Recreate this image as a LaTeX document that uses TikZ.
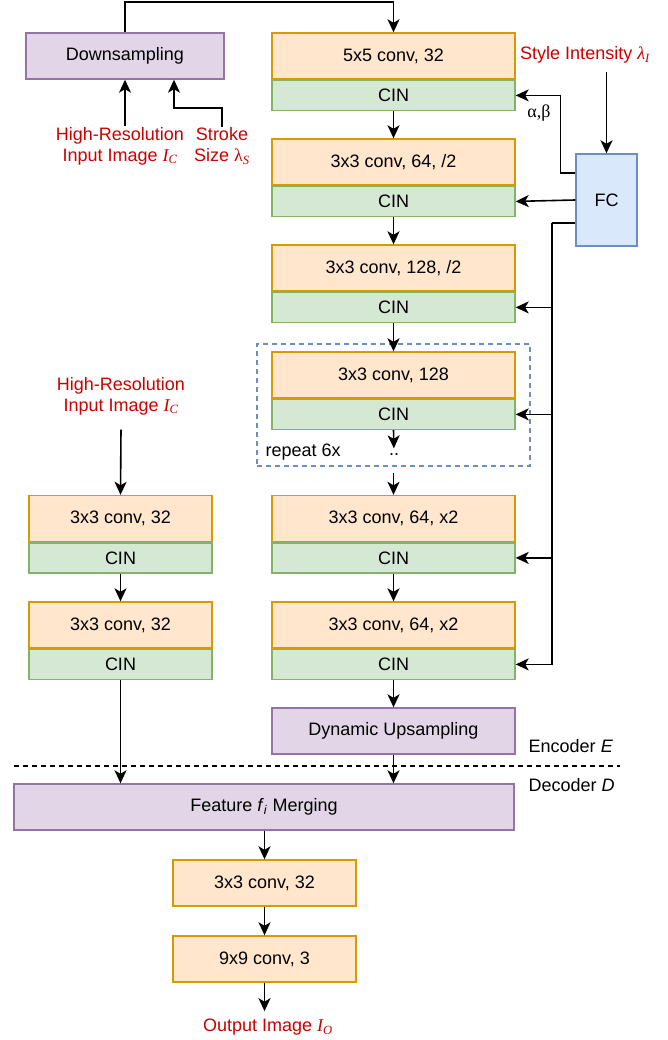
\documentclass[tikz,border=0pt]{standalone}
\usepackage{fontspec}
\setmainfont{Liberation Sans}
\newfontfamily\symfont{Liberation Serif}
\newcommand{\symit}[2]{{\symfont\itshape #1\textsubscript{#2}}}
\usetikzlibrary{arrows.meta,calc}
\definecolor{convfill}{HTML}{FFE6CC}
\definecolor{convline}{HTML}{D79B00}
\definecolor{cinfill}{HTML}{D5E8D4}
\definecolor{cinline}{HTML}{82B366}
\definecolor{procfill}{HTML}{E1D5E7}
\definecolor{procline}{HTML}{9673A6}
\definecolor{fcfill}{HTML}{DAE8FC}
\definecolor{fcline}{HTML}{6C8EBF}
\definecolor{inred}{HTML}{CC0000}

\begin{document}
\begin{tikzpicture}[x=1pt, y=-1pt, line width=1.4pt, font=\fontsize{18}{21}\selectfont,
  conv/.style={draw=convline, fill=convfill, minimum width=243pt, minimum height=46pt, inner sep=0pt},
  cin/.style={draw=cinline, fill=cinfill, minimum width=243pt, minimum height=30pt, inner sep=0pt, anchor=north},
  proc/.style={draw=procline, fill=procfill, minimum height=46pt, inner sep=0pt},
  arr/.style={line width=1.6pt, -{Stealth[length=13pt, width=12pt, inset=3.5pt]}},
  inlabel/.style={text=inred, align=center, inner sep=0pt}]
\useasboundingbox (0,0) rectangle (667,1040);
\node[proc, minimum width=198pt] (down) at (125,56) {Downsampling};
\node[draw=fcline, dashed, dash pattern=on 5pt off 4pt, minimum width=273pt, minimum height=122pt] (rep) at (393.5,405) {};
\node[conv] (conv1) at (393.5,56) {5x5 conv, 32};
\node[cin] (cin1) at (conv1.south) {CIN};
\node[conv] (conv2) at (393.5,162) {3x3 conv, 64, /2};
\node[cin] (cin2) at (conv2.south) {CIN};
\node[conv] (conv3) at (393.5,268) {3x3 conv, 128, /2};
\node[cin] (cin3) at (conv3.south) {CIN};
\node[conv] (conv4) at (393.5,375) {3x3 conv, 128};
\node[cin] (cin4) at (conv4.south) {CIN};
\node[conv] (conv5) at (393.5,518.5) {3x3 conv, 64, x2};
\node[cin] (cin5) at (conv5.south) {CIN};
\node[conv] (conv6) at (393.5,625) {3x3 conv, 64, x2};
\node[cin] (cin6) at (conv6.south) {CIN};
\node[proc, minimum width=243pt] (dyn) at (393.5,731) {Dynamic Upsampling};
\node[conv, minimum width=183pt] (lconv1) at (120.5,518.5) {3x3 conv, 32};
\node[cin, minimum width=183pt] (lcin1) at (lconv1.south) {CIN};
\node[conv, minimum width=183pt] (lconv2) at (120.5,625) {3x3 conv, 32};
\node[cin, minimum width=183pt] (lcin2) at (lconv2.south) {CIN};
\node[proc, minimum width=500pt] (merge) at (264,807) {Feature \textit{f}\textsubscript{\textit{i}} Merging};
\node[conv, minimum width=183pt] (out1) at (264.5,883) {3x3 conv, 32};
\node[conv, minimum width=183pt] (out2) at (264.5,959) {9x9 conv, 3};
\node[draw=fcline, fill=fcfill, minimum width=61pt, minimum height=92pt] (fc) at (606.5,200) {FC};
\node[inlabel] (hrlabel) at (120,146) {High-Resolution\\Input Image \symit{I}{C}};
\node[inlabel] (strokelabel) at (222,146) {Stroke\\Size {\symfont λ\textsubscript{\itshape S}}};
\node[inlabel] (stylelabel) at (585,55) {Style Intensity \symit{λ}{I}};
\node[inlabel] (hrlabel2) at (121,396) {High-Resolution\\Input Image \symit{I}{C}};
\node[inlabel] (outlabel) at (268,1027) {Output Image \symit{I}{O}};
\node[inner sep=0pt] (ab) at (539,113) {\symfont α,β};
\node[anchor=west, inner sep=0pt] (reptext) at (265,452) {repeat 6x};
\node[inner sep=0pt] (dots) at (394,455) {..};
\node[anchor=west, inner sep=0pt] (enc) at (528,746) {Encoder \textit{E}};
\node[anchor=west, inner sep=0pt] (dec) at (528,785) {Decoder \textit{D}};
\coordinate (bus) at (552,223);
\coordinate (sepL) at (14,766);
\coordinate (sepR) at (620,766);
\draw[arr] (down.north) -- ++(0,-30) -| (conv1.north);
\draw[arr] ([xshift=5pt]hrlabel.north) -- ([xshift=5pt]hrlabel.north |- down.south);
\draw[arr] (strokelabel.north) -- ++(0,-19) -| ([xshift=49pt]down.south);
\draw[arr] (cin1.south) -- (conv2.north);
\draw[arr] (cin2.south) -- (conv3.north);
\draw[arr] (cin3.south) -- (conv4.north);
\draw[arr, shorten >=5pt] (cin4.south) -- (dots.north);
\draw[arr] (rep.south -| conv5.north) ++(0,6) -- (conv5.north);
\draw[arr] (cin5.south) -- (conv6.north);
\draw[arr] (cin6.south) -- (dyn.north);
\draw[arr] (dyn.south) -- (merge.north -| dyn.south);
\draw[arr] (hrlabel2.south) ++(0,14) -- (lconv1.north);
\draw[arr] (lcin1.south) -- (lconv2.north);
\draw[arr] (lcin2.south) -- (merge.north -| lcin2.south);
\draw[arr] (merge.south -| out1.north) -- (out1.north);
\draw[arr] (out1.south) -- (out2.north);
\draw[arr, shorten >=7pt] (out2.south) -- (out2.south |- outlabel.north);
\draw[arr] (stylelabel.south -| fc.north) ++(0,8) -- (fc.north);
\draw[arr] ([yshift=27pt]fc.west) -- ++(-15,0) |- (cin1.east);
\draw[arr] (fc.west) -- (cin2.east);
\draw ([yshift=-23pt]fc.west) -- (bus);
\draw[arr] (bus) |- (cin6.east);
\draw[arr] (cin3.east -| bus) -- (cin3.east);
\draw[arr] (cin4.east -| bus) -- (cin4.east);
\draw[arr] (cin5.east -| bus) -- (cin5.east);
\draw[dashed, dash pattern=on 5pt off 4pt] (sepL) -- (sepR);
\end{tikzpicture}
\end{document}
